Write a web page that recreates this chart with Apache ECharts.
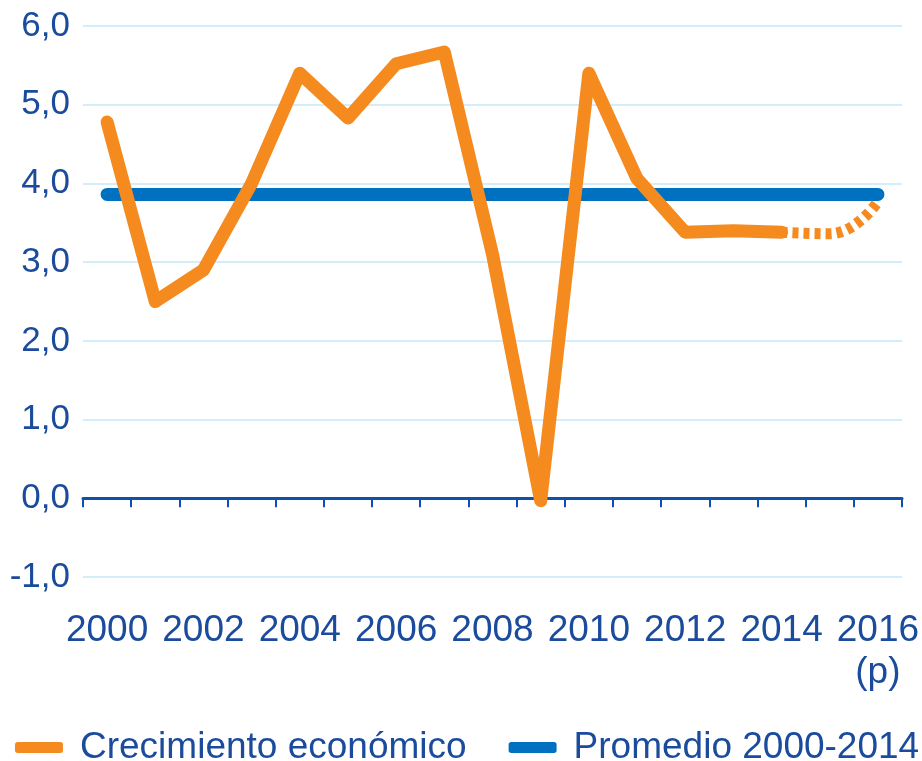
<!DOCTYPE html>
<html>
<head>
<meta charset="utf-8">
<script src="https://cdn.jsdelivr.net/npm/echarts@6/dist/echarts.min.js"></script>
<style>
  html, body { margin: 0; padding: 0; background: #fff; }
  #chart { width: 922px; height: 761px; }
</style>
</head>
<body>
<div id="chart"></div>
<script>
// datos
var years = ['2000', '2001', '2002', '2003', '2004', '2005', '2006', '2007', '2008',
             '2009', '2010', '2011', '2012', '2013', '2014', '2015', '2016\n(p)'];
var crecimiento = [4.78, 2.5, 2.9, 4.0, 5.4, 4.83, 5.52, 5.67, 3.1,
                   -0.03, 5.4, 4.06, 3.38, 3.4, 3.38, null, null];
var proyeccion = [null, null, null, null, null, null, null, null, null,
                  null, null, null, null, null, 3.38, 3.36, 3.77];
var promedio = [3.86, 3.86, 3.86, 3.86, 3.86, 3.86, 3.86, 3.86, 3.86,
                3.86, 3.86, 3.86, 3.86, 3.86, 3.86, 3.86, 3.86];

var azulTexto = '#1A4B9C';
var naranja = '#F58A1F';
var azul = '#0070C0';

var myChart = echarts.init(document.getElementById('chart'));

var option = {
    animation: false,
    textStyle: { fontFamily: '"Liberation Sans", Arial, sans-serif' },
    grid: {
        left: 83,
        right: 20,
        top: 26,
        bottom: 184,
        containLabel: false,
        outerBoundsMode: 'none'
    },
    legend: {
        data: [
            { name: 'Crecimiento económico', itemStyle: { color: naranja } },
            { name: 'Promedio 2000-2014', itemStyle: { color: azul } }
        ],
        icon: 'roundRect',
        itemWidth: 48,
        itemHeight: 11,
        itemGap: 42,
        left: 15,
        top: 729,
        width: 907,
        padding: 0,
        textStyle: {
            color: azulTexto,
            fontSize: 37,
            padding: [0, 0, 0, 12]
        }
    },
    xAxis: {
        type: 'category',
        data: years,
        boundaryGap: true,
        axisLine: {
            onZero: true,
            lineStyle: { color: '#1150AA', width: 3 }
        },
        axisTick: {
            show: true,
            length: 9,
            interval: 0,
            lineStyle: { color: '#1150AA', width: 2 }
        },
        axisLabel: {
            interval: 1,
            margin: 33,
            color: azulTexto,
            fontSize: 37,
            lineHeight: 42
        },
        splitLine: { show: false }
    },
    yAxis: {
        type: 'value',
        min: -1,
        max: 6,
        interval: 1,
        axisLine: { show: false },
        axisTick: { show: false },
        axisLabel: {
            margin: 13,
            color: azulTexto,
            fontSize: 35,
            formatter: function (v) {
                return v.toFixed(1).replace('.', ',');
            }
        },
        splitLine: {
            lineStyle: { color: '#C4E9F8', width: 1.5 }
        }
    },
    series: [
        {
            name: 'Promedio 2000-2014',
            type: 'line',
            data: promedio,
            symbol: 'none',
            lineStyle: { color: azul, width: 13, cap: 'round' },
            itemStyle: { color: azul },
            z: 1
        },
        {
            name: 'Crecimiento económico',
            type: 'line',
            data: crecimiento,
            symbol: 'none',
            lineStyle: { color: naranja, width: 13, cap: 'round', join: 'round' },
            itemStyle: { color: naranja },
            z: 3
        },
        {
            name: 'Proyección',
            type: 'line',
            data: proyeccion,
            symbol: 'none',
            smooth: 0.5,
            lineStyle: { color: naranja, width: 11, type: [6, 5] },
            itemStyle: { color: naranja },
            z: 2
        }
    ]
};

myChart.setOption(option);
</script>
</body>
</html>
